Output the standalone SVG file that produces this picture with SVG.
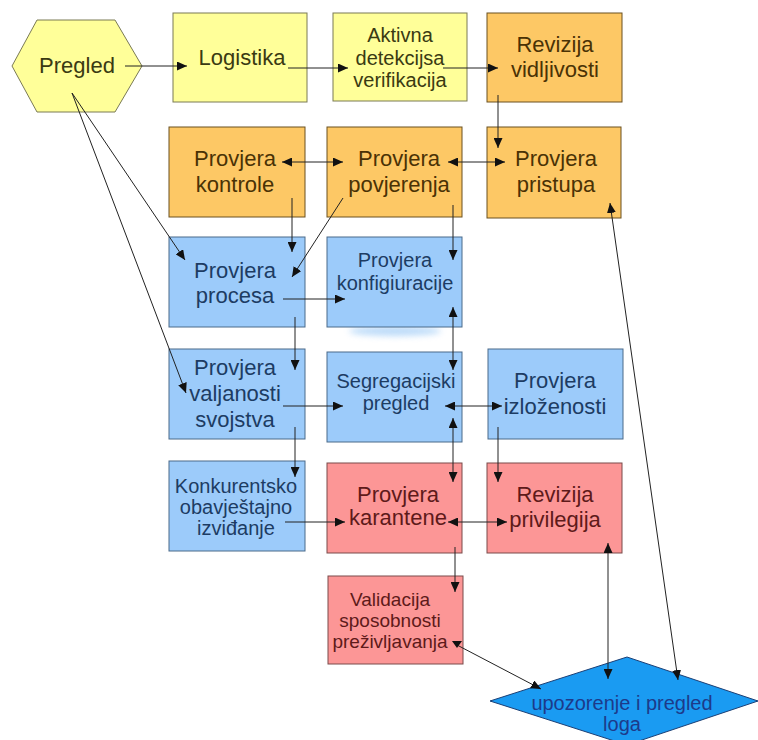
<svg xmlns="http://www.w3.org/2000/svg" width="758" height="740" viewBox="0 0 758 740">
<defs>
<marker id="ah" viewBox="0 0 10 9" refX="10" refY="4.5" markerUnits="userSpaceOnUse" markerWidth="10" markerHeight="9" orient="auto-start-reverse">
<path d="M0,0 L10,4.5 L0,9 z" fill="#111"/>
</marker>
<filter id="blur" x="-50%" y="-200%" width="200%" height="500%"><feGaussianBlur stdDeviation="3"/></filter>
</defs>
<style>
text{font-family:"Liberation Sans",Arial,sans-serif;text-anchor:middle}
.big{font-size:22px}
.sm{font-size:20px}
.xs{font-size:19px}
.y rect,.y polygon{fill:#FFFF99;stroke:#7a7a55;stroke-width:1}
.y text{fill:#3a3a12}
.o rect{fill:#FDC865;stroke:#6a5020;stroke-width:1}
.o text{fill:#4a3205}
.b rect{fill:#9CCBFA;stroke:#4a6a8a;stroke-width:1}
.b text{fill:#1d3c63}
.r rect{fill:#FC9696;stroke:#7a4a4a;stroke-width:1}
.r text{fill:#5e1a1a}
.d polygon{fill:#1A9BF2;stroke:#1b3f75;stroke-width:1}
.d text{fill:#1d3a8a}
.c line{stroke:#222;stroke-width:1;fill:none}
.e{marker-end:url(#ah)}
.be{marker-start:url(#ah);marker-end:url(#ah)}
</style>
<rect width="758" height="740" fill="#fff"/>
<ellipse cx="395" cy="331" rx="46" ry="5" fill="#8fc3f5" opacity="0.6" filter="url(#blur)"/>

<g id="pregled" class="y">
<polygon points="12,66 37,20 115,20 142,66 115,112 37,112"/>
<text class="big" x="77" y="73">Pregled</text>
</g>
<g id="logistika" class="y">
<rect x="173" y="13" width="134" height="89"/>
<text class="big" x="242" y="65">Logistika</text>
</g>
<g id="aktivna" class="y">
<rect x="333" y="13" width="134" height="88"/>
<text class="sm" x="400" y="42">Aktivna</text>
<text class="sm" x="400" y="65">detekcijsa</text>
<text class="sm" x="400" y="87">verifikacija</text>
</g>
<g id="revizija-vidljivosti" class="o">
<rect x="487" y="13" width="135" height="89"/>
<text class="big" x="555" y="52">Revizija</text>
<text class="big" x="555" y="77">vidljivosti</text>
</g>

<g id="provjera-kontrole" class="o">
<rect x="169" y="127" width="136" height="90"/>
<text class="big" x="235" y="166">Provjera</text>
<text class="big" x="235" y="192">kontrole</text>
</g>
<g id="provjera-povjerenja" class="o">
<rect x="327" y="127" width="135" height="90"/>
<text class="big" x="399" y="166">Provjera</text>
<text class="big" x="399" y="192">povjerenja</text>
</g>
<g id="provjera-pristupa" class="o">
<rect x="487" y="127" width="134" height="91"/>
<text class="big" x="556" y="166">Provjera</text>
<text class="big" x="556" y="192">pristupa</text>
</g>

<g id="provjera-procesa" class="b">
<rect x="169" y="237" width="136" height="90"/>
<text class="big" x="235" y="278">Provjera</text>
<text class="big" x="235" y="303">procesa</text>
</g>
<g id="provjera-konfiguracije" class="b">
<rect x="327" y="237" width="135" height="90"/>
<text class="sm" x="395" y="267">Provjera</text>
<text class="sm" x="395" y="290">konfigiuracije</text>
</g>

<g id="provjera-valjanosti" class="b">
<rect x="169" y="349" width="136" height="90"/>
<text class="big" x="235" y="375">Provjera</text>
<text class="big" x="235" y="401">valjanosti</text>
<text class="big" x="235" y="427">svojstva</text>
</g>
<g id="segregacijski" class="b">
<rect x="327" y="352" width="135" height="90"/>
<text class="sm" x="396" y="388">Segregacijski</text>
<text class="sm" x="396" y="410">pregled</text>
</g>
<g id="provjera-izlozenosti" class="b">
<rect x="488" y="349" width="135" height="90"/>
<text class="big" x="555" y="388">Provjera</text>
<text class="big" x="555" y="414">izloženosti</text>
</g>

<g id="konkurentsko" class="b">
<rect x="169" y="461" width="136" height="90"/>
<text class="sm" x="236" y="493">Konkurentsko</text>
<text class="sm" x="236" y="514">obavještajno</text>
<text class="sm" x="236" y="535">izviđanje</text>
</g>
<g id="provjera-karantene" class="r">
<rect x="327" y="463" width="135" height="90"/>
<text class="big" x="398" y="502">Provjera</text>
<text class="big" x="398" y="525">karantene</text>
</g>
<g id="revizija-privilegija" class="r">
<rect x="487" y="463" width="135" height="90"/>
<text class="big" x="555" y="502">Revizija</text>
<text class="big" x="555" y="527">privilegija</text>
</g>

<g id="validacija" class="r">
<rect x="328" y="576" width="135" height="88"/>
<text class="xs" x="390" y="606">Validacija</text>
<text class="xs" x="390" y="627">sposobnosti</text>
<text class="xs" x="390" y="648">preživljavanja</text>
</g>

<g id="upozorenje" class="d">
<polygon points="490,701 627,657 758,701 627,745"/>
<text class="sm" x="622" y="710">upozorenje i pregled</text>
<text class="sm" x="622" y="731">loga</text>
</g>

<g id="connectors" class="c">
<line class="e" x1="125" y1="66" x2="187" y2="66"/>
<line class="e" x1="288" y1="68" x2="348" y2="68"/>
<line class="e" x1="443" y1="68" x2="498" y2="68"/>
<line class="e" x1="498" y1="95" x2="498" y2="148"/>
<line class="be" x1="282" y1="162" x2="343" y2="162"/>
<line class="be" x1="448" y1="162" x2="505" y2="162"/>
<line class="e" x1="292" y1="198" x2="292" y2="252"/>
<line class="e" x1="343" y1="198" x2="292" y2="277"/>
<line class="e" x1="453" y1="205" x2="453" y2="260"/>
<line class="e" x1="283" y1="299" x2="345" y2="299"/>
<line class="e" x1="72" y1="93" x2="185" y2="260"/>
<line class="e" x1="72" y1="93" x2="186" y2="393"/>
<line class="e" x1="295" y1="317" x2="295" y2="370"/>
<line class="be" x1="453" y1="307" x2="453" y2="370"/>
<line class="e" x1="283" y1="406" x2="343" y2="406"/>
<line class="be" x1="445" y1="406" x2="502" y2="406"/>
<line class="be" x1="453" y1="418" x2="453" y2="482"/>
<line class="e" x1="295" y1="427" x2="295" y2="477"/>
<line class="e" x1="498" y1="427" x2="498" y2="482"/>
<line class="e" x1="285" y1="522" x2="345" y2="522"/>
<line class="be" x1="448" y1="522" x2="507" y2="522"/>
<line class="e" x1="455" y1="547" x2="455" y2="592"/>
<line class="e" x1="457" y1="645" x2="541" y2="689"/>
<path d="M452,641 L462,641 L457,648 z" fill="#111"/>
<line class="be" x1="608" y1="543" x2="608" y2="679"/>
<line class="be" x1="610" y1="203" x2="678" y2="680"/>
</g>
</svg>
